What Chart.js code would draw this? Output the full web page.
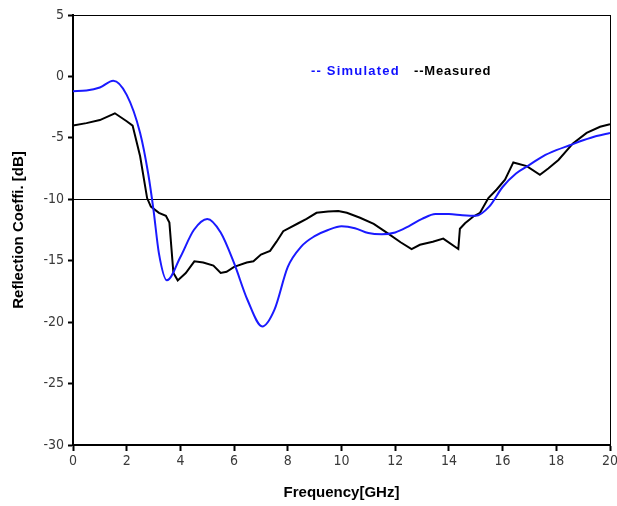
<!DOCTYPE html>
<html>
<head>
<meta charset="utf-8">
<script src="https://cdn.jsdelivr.net/npm/chart.js@4/dist/chart.umd.min.js"></script>
<style>
  html, body { margin: 0; padding: 0; background: #fff; }
  #wrap { width: 617px; height: 506px; }
</style>
</head>
<body>
<div id="wrap"><canvas id="chart"></canvas></div>
<script>
// --- DATA ---
const simFreq = [0, 0.5, 1, 1.5, 2, 2.5, 2.8, 3, 3.2, 3.5, 4, 4.5, 5, 5.5, 6, 6.5, 7.05, 7.5, 8, 8.5, 9, 9.5, 10, 10.5, 11, 11.5, 12, 12.5, 13, 13.5, 14, 14.5, 15, 15.5, 16, 16.5, 17, 17.5, 18, 18.5, 19, 19.5, 20];
const simVal = [-1.2, -1.15, -0.9, -0.35, -1.5, -4.6, -7.9, -10.9, -14.4, -16.6, -14.7, -12.5, -11.6, -12.7, -15.2, -18.2, -20.35, -19.0, -15.5, -13.85, -13.0, -12.5, -12.2, -12.35, -12.75, -12.85, -12.7, -12.2, -11.6, -11.2, -11.2, -11.3, -11.35, -10.6, -9.0, -7.9, -7.2, -6.5, -6.0, -5.6, -5.2, -4.85, -4.6];

const measFreq = [0, 0.5, 1, 1.56, 2, 2.22, 2.5, 2.76, 2.9, 3.2, 3.46, 3.59, 3.74, 3.9, 4.2, 4.52, 4.85, 5.23, 5.5, 5.72, 6.0, 6.47, 6.72, 7.0, 7.34, 7.58, 7.83, 8.39, 8.7, 9.07, 9.5, 9.88, 10.2, 10.69, 11.2, 11.74, 12.2, 12.61, 12.92, 13.4, 13.79, 14.35, 14.41, 14.6, 14.91, 15.16, 15.47, 15.78, 16.09, 16.4, 16.9, 17.39, 17.7, 18.08, 18.62, 19.13, 19.63, 20];
const measVal = [-4.0, -3.8, -3.55, -3.0, -3.65, -4.0, -6.5, -9.9, -10.6, -11.1, -11.35, -11.9, -16.0, -16.6, -16.0, -15.05, -15.15, -15.4, -16.0, -15.9, -15.5, -15.15, -15.05, -14.5, -14.2, -13.45, -12.6, -11.95, -11.6, -11.1, -11.0, -10.95, -11.1, -11.5, -12.0, -12.8, -13.5, -14.05, -13.7, -13.45, -13.2, -14.05, -12.4, -11.95, -11.4, -11.1, -9.9, -9.2, -8.4, -7.0, -7.3, -8.0, -7.5, -6.8, -5.45, -4.6, -4.1, -3.9];

const xTicks = [0, 2, 4, 6, 8, 10, 12, 14, 16, 18, 20];
const yTicks = [5, 0, -5, -10, -15, -20, -25, -30];

const toPoints = (xs, ys) => xs.map((x, i) => ({ x: x, y: ys[i] }));

// --- TEXT LEGEND ---
const legendText = {
  id: "legendText",
  afterDraw(chart) {
    const c = chart.ctx;
    c.save();
    c.font = "bold 13px 'Liberation Sans', Arial, sans-serif";
    c.letterSpacing = "1.2px";
    c.textBaseline = "middle";
    c.fillStyle = "#1010ff";
    c.fillText("-- Simulated", 311, 71);
    c.fillStyle = "#000";
    c.letterSpacing = "0.8px";
    c.fillText("--Measured", 414, 71);
    c.restore();
  },
};

const tickFont = { family: "'Liberation Sans Narrow', 'DejaVu Sans Condensed', 'Liberation Sans', sans-serif", size: 14 };
const titleFont = { family: "'Liberation Sans', Arial, sans-serif", size: 15, weight: "bold" };

new Chart(document.getElementById("chart"), {
  type: "line",
  data: {
    datasets: [
      {
        label: "Simulated",
        data: toPoints(simFreq, simVal),
        borderColor: "#1a1aff",
        borderWidth: 2,
        pointRadius: 0,
        tension: 0.4,
        cubicInterpolationMode: "monotone",
        fill: false,
      },
      {
        label: "Measured",
        data: toPoints(measFreq, measVal),
        borderColor: "#000",
        borderWidth: 2,
        pointRadius: 0,
        tension: 0,
        fill: false,
      },
    ],
  },
  options: {
    responsive: true,
    maintainAspectRatio: false,
    animation: false,
    layout: { padding: { left: 2, right: 0, top: 15, bottom: 0 } },
    plugins: { legend: { display: false }, tooltip: { enabled: false } },
    scales: {
      x: {
        type: "linear",
        min: 0,
        max: 20,
        afterBuildTicks: (s) => { s.ticks = xTicks.map((v) => ({ value: v })); },
        afterFit: (s) => { s.height = 61; s.paddingRight = 7; },
        border: { color: "#000", width: 2 },
        grid: {
          drawOnChartArea: true,
          color: (ctx) => (ctx.tick && ctx.tick.value === 20 ? "#000" : "transparent"),
          lineWidth: 1,
          tickColor: "#000",
          tickLength: 6,
          tickWidth: 2,
        },
        ticks: { color: "#3a3a3a", font: tickFont, padding: 2, maxRotation: 0 },
        title: { display: true, text: "Frequency[GHz]", color: "#000", font: titleFont, padding: { top: 12 } },
      },
      y: {
        type: "linear",
        min: -30,
        max: 5,
        afterBuildTicks: (s) => { s.ticks = yTicks.map((v) => ({ value: v })); },
        afterFit: (s) => { s.width = 71; },
        border: { color: "#000", width: 2 },
        grid: {
          drawOnChartArea: true,
          color: (ctx) => (ctx.tick && (ctx.tick.value === -10 || ctx.tick.value === 5) ? "#000" : "transparent"),
          lineWidth: 1,
          tickColor: "#000",
          tickLength: 5,
          tickWidth: 2,
        },
        ticks: { color: "#3a3a3a", font: tickFont, padding: 4 },
        title: { display: true, text: "Reflection Coeffi. [dB]", color: "#000", font: titleFont, padding: { top: 8, bottom: 0 } },
      },
    },
  },
  plugins: [legendText],
});
</script>
</body>
</html>
